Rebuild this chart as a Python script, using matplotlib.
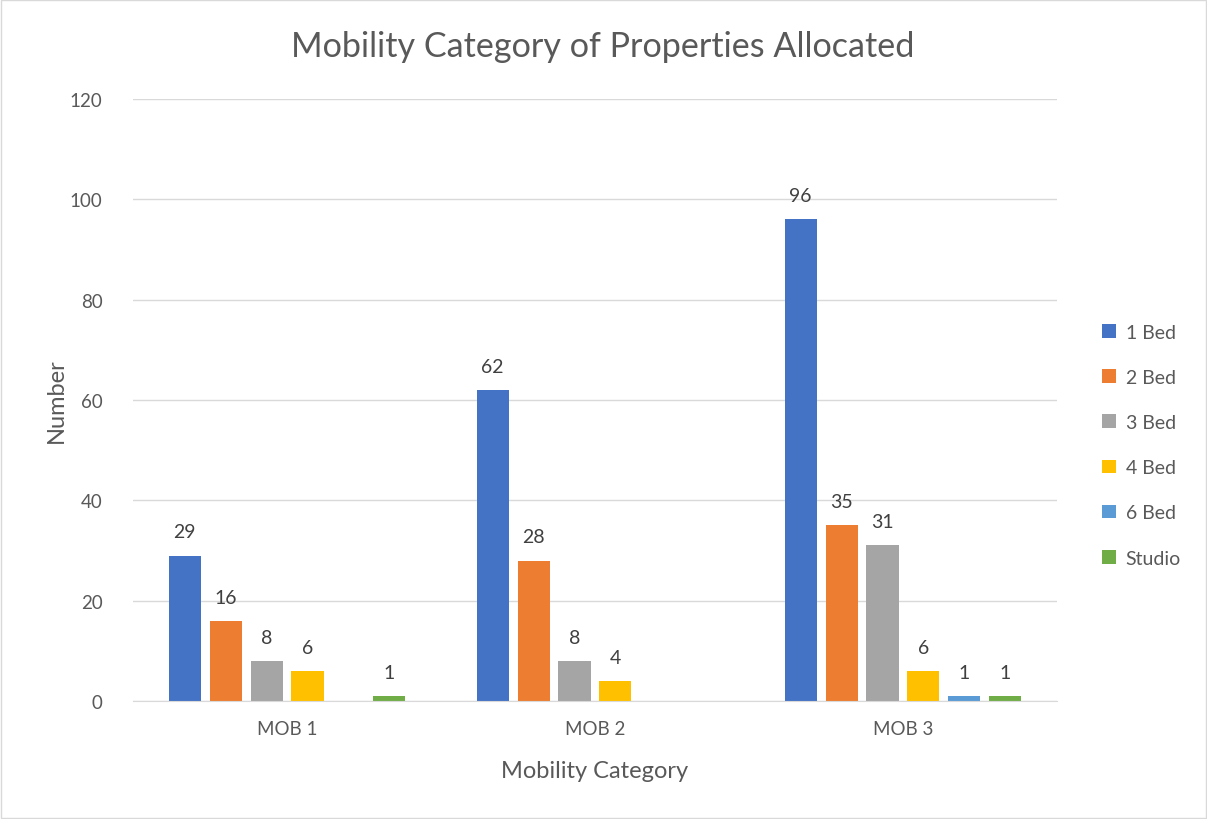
import numpy as np
import matplotlib
from matplotlib import pyplot as plt

matplotlib.rc('font', family=['Lato', 'DejaVu Sans'])

categories = ['MOB 1', 'MOB 2', 'MOB 3']
series = ['1 Bed', '2 Bed', '3 Bed', '4 Bed', '6 Bed', 'Studio']
values = {
    '1 Bed': [29, 62, 96],
    '2 Bed': [16, 28, 35],
    '3 Bed': [8, 8, 31],
    '4 Bed': [6, 4, 6],
    '6 Bed': [None, None, 1],
    'Studio': [1, None, 1],
}
colors = ['#4472C4', '#ED7D31', '#A5A5A5', '#FFC000', '#5B9BD5', '#70AD47']

textColor = '#595959'
gridColor = '#D9D9D9'

fig = plt.figure(figsize=(12.07, 8.20), dpi=100)
ax = fig.add_axes([0.1102, 0.1439, 0.7655, 0.7341])

index = np.arange(len(categories))
slot = 0.133
width = 0.104
for i, name in enumerate(series):
    vals = values[name]
    x = index + (i - 2.5) * slot
    h = [v if v is not None else 0 for v in vals]
    ax.bar(x, h, width=width, color=colors[i], label=name, zorder=3)
    for xx, v in zip(x, vals):
        if v is not None:
            ax.text(xx, v + 3.0, str(v), ha='center', va='bottom',
                    fontsize=14, color='#404040')

ax.set_xlim(-0.5, 2.5)
ax.set_ylim(0, 120)
ax.set_yticks(range(0, 121, 20))
ax.set_xticks(index)
ax.set_xticklabels(categories)
ax.tick_params(axis='both', length=0, labelsize=13.5, colors=textColor)
ax.tick_params(axis='x', pad=14)
ax.tick_params(axis='y', pad=22)
ax.yaxis.grid(True, color=gridColor, linewidth=1, zorder=0)
for s in ['top', 'right', 'left']:
    ax.spines[s].set_visible(False)
ax.spines['bottom'].set_color(gridColor)
ax.spines['bottom'].set_zorder(4)

ax.set_xlabel('Mobility Category', fontsize=17, color=textColor, labelpad=16)
ax.set_ylabel('Number', fontsize=17, color=textColor, labelpad=2)
fig.text(0.4995, 0.943, 'Mobility Category of Properties Allocated',
         ha='center', va='center', fontsize=24.6, color=textColor)

leg = ax.legend(loc='center left', bbox_to_anchor=(1.03, 0.425), frameon=False,
                fontsize=14, labelcolor=textColor, handlelength=0.7,
                handleheight=0.7, handletextpad=0.5, labelspacing=1.45)

fig.patches.append(plt.Rectangle((0.001, 0.001), 0.998, 0.998, transform=fig.transFigure,
                                 fill=False, edgecolor='#D9D9D9', linewidth=1))

fig.savefig('out.png', dpi=100)
